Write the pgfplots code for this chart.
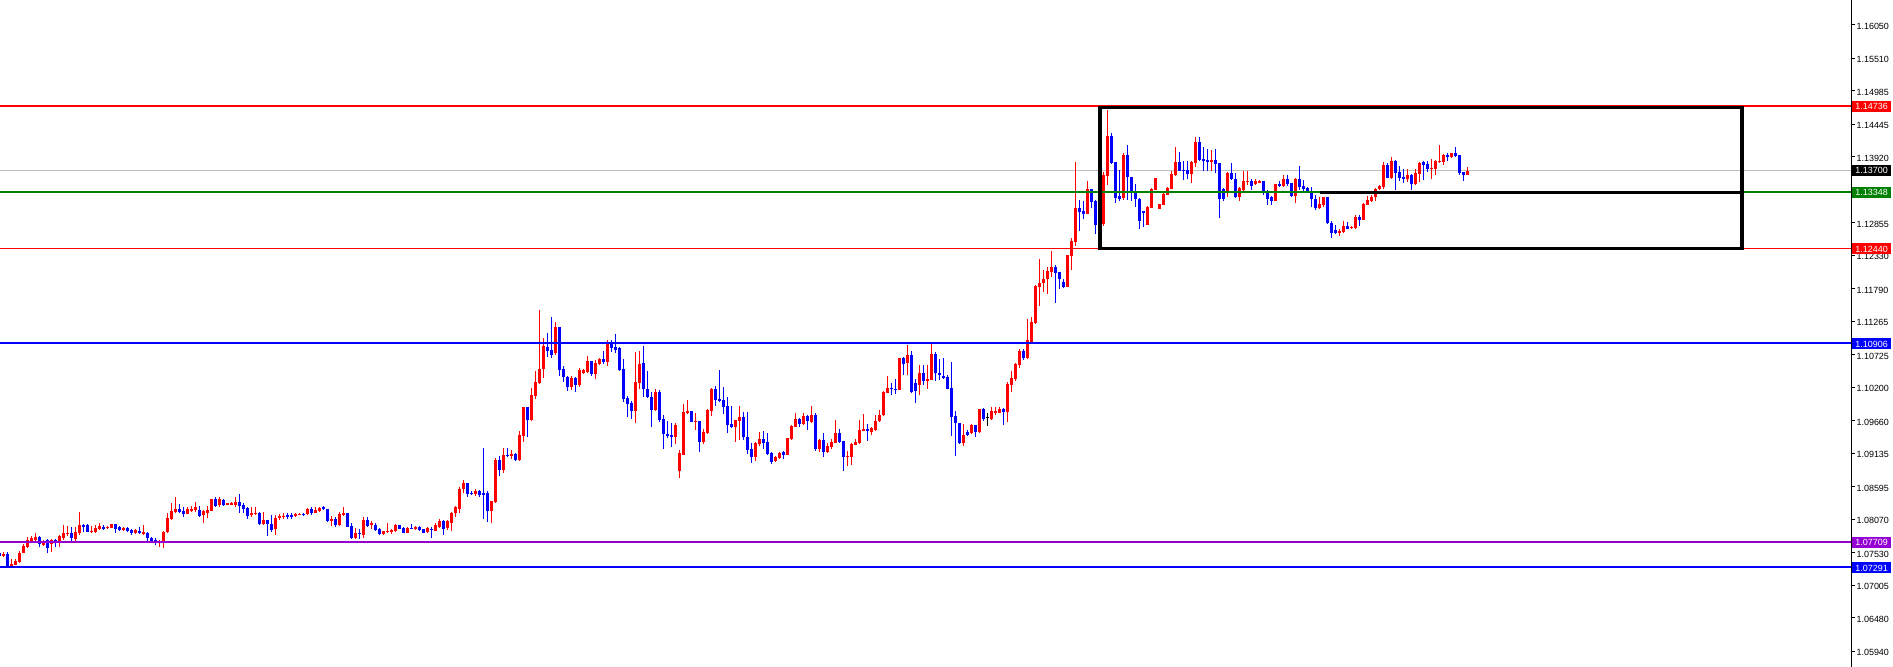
\documentclass[border=0pt]{standalone}
\usepackage{pgfplots}
\pgfplotsset{compat=1.18}
\usepackage{pgfplotstable}
\usepackage{fontspec}
\setmainfont{Liberation Sans}
\definecolor{mtred}{RGB}{255,0,0}
\definecolor{mtblue}{RGB}{0,0,255}
\definecolor{mtgreen}{RGB}{0,128,0}
\definecolor{mtpurple}{RGB}{148,0,211}
\definecolor{mtgray}{RGB}{192,192,192}
\pgfplotstableread{
x o h l c
-1 1.07530 1.07546 1.07465 1.07476
0 1.07476 1.07546 1.07454 1.07503
1 1.07508 1.07546 1.07293 1.07304
2 1.07315 1.07422 1.07298 1.07347
3 1.07336 1.07422 1.07325 1.07401
4 1.07379 1.07562 1.07368 1.07530
5 1.07530 1.07670 1.07519 1.07637
6 1.07627 1.07788 1.07610 1.07734
7 1.07713 1.07799 1.07702 1.07766
8 1.07734 1.07853 1.07718 1.07783
9 1.07783 1.07799 1.07616 1.07670
10 1.07648 1.07734 1.07637 1.07691
11 1.07734 1.07750 1.07519 1.07610
12 1.07670 1.07750 1.07541 1.07734
13 1.07734 1.07750 1.07616 1.07680
14 1.07702 1.07820 1.07627 1.07799
15 1.07772 1.07976 1.07734 1.07853
16 1.07831 1.07960 1.07799 1.07853
17 1.07853 1.07939 1.07723 1.07766
18 1.07756 1.07939 1.07723 1.07863
19 1.07853 1.08186 1.07815 1.07976
20 1.07976 1.07987 1.07858 1.07949
21 1.07971 1.07987 1.07858 1.07869
22 1.07863 1.07960 1.07842 1.07879
23 1.07863 1.07976 1.07842 1.07922
24 1.07912 1.08014 1.07896 1.07960
25 1.07949 1.07971 1.07896 1.07906
26 1.07922 1.07960 1.07912 1.07949
27 1.07933 1.07992 1.07922 1.07987
28 1.07987 1.07992 1.07853 1.07906
29 1.07939 1.07966 1.07874 1.07896
30 1.07896 1.07949 1.07885 1.07933
31 1.07933 1.07949 1.07858 1.07879
32 1.07896 1.07912 1.07815 1.07853
33 1.07853 1.07917 1.07831 1.07896
34 1.07879 1.07949 1.07826 1.07853
35 1.07831 1.07976 1.07810 1.07863
36 1.07853 1.07863 1.07723 1.07761
37 1.07772 1.07788 1.07702 1.07718
38 1.07734 1.07761 1.07648 1.07680
39 1.07680 1.07734 1.07616 1.07718
40 1.07707 1.07879 1.07610 1.07869
41 1.07858 1.08175 1.07842 1.08089
42 1.08079 1.08326 1.08057 1.08202
43 1.08186 1.08423 1.08165 1.08235
44 1.08229 1.08315 1.08165 1.08186
45 1.08208 1.08272 1.08100 1.08159
46 1.08159 1.08261 1.08148 1.08229
47 1.08208 1.08283 1.08186 1.08240
48 1.08218 1.08348 1.08191 1.08261
49 1.08218 1.08283 1.08111 1.08122
50 1.08132 1.08218 1.08014 1.08197
51 1.08175 1.08283 1.08084 1.08218
52 1.08208 1.08401 1.08197 1.08391
53 1.08391 1.08434 1.08272 1.08283
54 1.08294 1.08434 1.08272 1.08391
55 1.08380 1.08401 1.08283 1.08294
56 1.08304 1.08337 1.08294 1.08326
57 1.08304 1.08348 1.08294 1.08326
58 1.08304 1.08434 1.08261 1.08348
59 1.08348 1.08477 1.08175 1.08283
60 1.08304 1.08326 1.08175 1.08240
61 1.08251 1.08272 1.08079 1.08122
62 1.08132 1.08261 1.08111 1.08175
63 1.08154 1.08272 1.08138 1.08175
64 1.08175 1.08186 1.07976 1.07992
65 1.07992 1.08186 1.07976 1.08057
66 1.08057 1.08057 1.07799 1.07992
67 1.07992 1.08138 1.07869 1.07896
68 1.07906 1.08138 1.07815 1.08084
69 1.08095 1.08154 1.08057 1.08127
70 1.08111 1.08165 1.08079 1.08122
71 1.08132 1.08175 1.08073 1.08105
72 1.08132 1.08175 1.08079 1.08100
73 1.08127 1.08175 1.08111 1.08154
74 1.08143 1.08175 1.08132 1.08159
75 1.08159 1.08175 1.08122 1.08143
76 1.08154 1.08251 1.08143 1.08240
77 1.08240 1.08261 1.08143 1.08165
78 1.08175 1.08261 1.08165 1.08218
79 1.08208 1.08261 1.08186 1.08251
80 1.08272 1.08283 1.08218 1.08229
81 1.08229 1.08229 1.08025 1.08046
82 1.08046 1.08122 1.07960 1.08068
83 1.08068 1.08100 1.07949 1.07971
84 1.07971 1.08191 1.07960 1.08154
85 1.08143 1.08272 1.08122 1.08165
86 1.08165 1.08175 1.07939 1.07949
87 1.07960 1.08003 1.07750 1.07766
88 1.07766 1.07928 1.07745 1.07853
89 1.07853 1.07917 1.07756 1.07842
90 1.07820 1.08111 1.07766 1.08057
91 1.08057 1.08111 1.07949 1.07960
92 1.07982 1.08046 1.07906 1.08003
93 1.07982 1.08014 1.07885 1.07896
94 1.07917 1.07928 1.07820 1.07831
95 1.07831 1.07885 1.07820 1.07874
96 1.07863 1.08003 1.07842 1.07885
97 1.07863 1.07917 1.07831 1.07896
98 1.07874 1.07992 1.07863 1.07971
99 1.07971 1.07982 1.07906 1.07917
100 1.07928 1.07939 1.07842 1.07853
101 1.07853 1.07939 1.07847 1.07928
102 1.07928 1.07992 1.07906 1.07917
103 1.07917 1.07960 1.07896 1.07939
104 1.07939 1.07960 1.07885 1.07896
105 1.07906 1.07917 1.07842 1.07853
106 1.07863 1.07939 1.07842 1.07928
107 1.07917 1.07949 1.07766 1.07896
108 1.07885 1.08003 1.07874 1.07971
109 1.07939 1.08068 1.07922 1.08046
110 1.08046 1.08057 1.07820 1.07917
111 1.07925 1.08057 1.07896 1.08035
112 1.08003 1.08186 1.07885 1.08175
113 1.08164 1.08283 1.08111 1.08261
114 1.08240 1.08584 1.08164 1.08552
115 1.08563 1.08702 1.08487 1.08649
116 1.08649 1.08660 1.08433 1.08476
117 1.08498 1.08530 1.08455 1.08476
118 1.08482 1.08552 1.08444 1.08525
119 1.08525 1.08541 1.08433 1.08460
120 1.08487 1.09219 1.08078 1.08466
121 1.08487 1.08530 1.08030 1.08207
122 1.08207 1.08369 1.08014 1.08369
123 1.08347 1.09052 1.08326 1.09025
124 1.09025 1.09090 1.08767 1.08864
125 1.08864 1.09213 1.08821 1.09106
126 1.09106 1.09213 1.09068 1.09090
127 1.09095 1.09187 1.09047 1.09122
128 1.09122 1.09144 1.09014 1.09025
129 1.09025 1.09493 1.09014 1.09429
130 1.09418 1.09886 1.09321 1.09875
131 1.09875 1.09886 1.09402 1.09671
132 1.09671 1.10182 1.09660 1.10069
133 1.10058 1.10462 1.10004 1.10284
134 1.10263 1.11446 1.10252 1.10494
135 1.10494 1.11000 1.10354 1.10865
136 1.10854 1.11080 1.10693 1.10784
137 1.10801 1.11339 1.10666 1.10720
138 1.10747 1.11253 1.10720 1.11177
139 1.11172 1.11177 1.10381 1.10478
140 1.10494 1.10542 1.10289 1.10359
141 1.10359 1.10381 1.10144 1.10209
142 1.10203 1.10381 1.10155 1.10349
143 1.10349 1.10370 1.10123 1.10236
144 1.10236 1.10510 1.10209 1.10478
145 1.10424 1.10489 1.10413 1.10478
146 1.10451 1.10704 1.10435 1.10628
147 1.10623 1.10623 1.10381 1.10413
148 1.10413 1.10639 1.10327 1.10585
149 1.10574 1.10677 1.10553 1.10650
150 1.10650 1.10784 1.10574 1.10607
151 1.10612 1.10962 1.10542 1.10892
152 1.10892 1.10962 1.10768 1.10838
153 1.10849 1.11059 1.10758 1.10801
154 1.10827 1.10844 1.10467 1.10478
155 1.10489 1.10655 1.09967 1.10004
156 1.10031 1.10058 1.09725 1.09929
157 1.09940 1.09983 1.09692 1.09821
158 1.09821 1.10774 1.09617 1.10284
159 1.10273 1.10784 1.10176 1.10574
160 1.10585 1.10865 1.10047 1.10166
161 1.10176 1.10462 1.10031 1.10037
162 1.10042 1.10123 1.09563 1.09832
163 1.09832 1.10166 1.09821 1.10123
164 1.10123 1.10155 1.09644 1.09671
165 1.09682 1.09757 1.09203 1.09445
166 1.09445 1.09655 1.09375 1.09418
167 1.09429 1.09628 1.09240 1.09402
168 1.09402 1.09628 1.09283 1.09590
169 1.08853 1.09187 1.08740 1.09144
170 1.09111 1.09929 1.09111 1.09800
171 1.09778 1.09994 1.09773 1.09811
172 1.09816 1.09816 1.09639 1.09639
173 1.09644 1.09789 1.09509 1.09655
174 1.09655 1.09655 1.09154 1.09316
175 1.09316 1.09520 1.09283 1.09472
176 1.09456 1.09854 1.09445 1.09838
177 1.09821 1.10193 1.09735 1.10176
178 1.10176 1.10220 1.09897 1.09994
179 1.10015 1.10478 1.09961 1.09983
180 1.09994 1.10203 1.09768 1.09886
181 1.09897 1.10047 1.09456 1.09595
182 1.09606 1.09897 1.09542 1.09558
183 1.09558 1.09671 1.09321 1.09671
184 1.09660 1.09897 1.09348 1.09719
185 1.09713 1.09800 1.09348 1.09391
186 1.09391 1.09800 1.09122 1.09186
187 1.09208 1.09294 1.08982 1.09079
188 1.09079 1.09315 1.09014 1.09294
189 1.09283 1.09477 1.09251 1.09358
190 1.09358 1.09487 1.09208 1.09294
191 1.09315 1.09455 1.09105 1.09122
192 1.09132 1.09154 1.08960 1.08998
193 1.09014 1.09089 1.08993 1.09079
194 1.09057 1.09154 1.09046 1.09132
195 1.09154 1.09175 1.09036 1.09111
196 1.09105 1.09385 1.09105 1.09374
197 1.09358 1.09584 1.09348 1.09574
198 1.09563 1.09778 1.09552 1.09681
199 1.09692 1.09703 1.09563 1.09606
200 1.09606 1.09778 1.09595 1.09735
201 1.09735 1.09746 1.09509 1.09660
202 1.09638 1.09896 1.09627 1.09746
203 1.09746 1.09789 1.09175 1.09197
204 1.09197 1.09358 1.09154 1.09348
205 1.09348 1.09455 1.09079 1.09159
206 1.09159 1.09305 1.09143 1.09251
207 1.09240 1.09369 1.09197 1.09315
208 1.09305 1.09670 1.09294 1.09455
209 1.09455 1.09531 1.09294 1.09315
210 1.09326 1.09326 1.08853 1.09079
211 1.09079 1.09175 1.08928 1.09089
212 1.09079 1.09294 1.08944 1.09283
213 1.09272 1.09369 1.09262 1.09315
214 1.09294 1.09670 1.09283 1.09509
215 1.09498 1.09767 1.09487 1.09531
216 1.09531 1.09606 1.09337 1.09498
217 1.09482 1.09563 1.09434 1.09547
218 1.09509 1.09746 1.09498 1.09660
219 1.09649 1.09832 1.09638 1.09746
220 1.09746 1.10144 1.09735 1.10128
221 1.10112 1.10381 1.10101 1.10187
222 1.10187 1.10262 1.10069 1.10165
223 1.10176 1.10327 1.10090 1.10165
224 1.10155 1.10671 1.10155 1.10671
225 1.10671 1.10682 1.10402 1.10574
226 1.10596 1.10886 1.10402 1.10725
227 1.10725 1.10779 1.10101 1.10122
228 1.10262 1.10327 1.09950 1.10133
229 1.10235 1.10558 1.10069 1.10434
230 1.10434 1.10553 1.10230 1.10294
231 1.10305 1.10553 1.10176 1.10327
232 1.10316 1.10908 1.10316 1.10736
233 1.10736 1.10768 1.10305 1.10424
234 1.10434 1.10660 1.10316 1.10391
235 1.10381 1.10671 1.10327 1.10348
236 1.10370 1.10402 1.10165 1.10176
237 1.10187 1.10607 1.09412 1.09724
238 1.09735 1.09821 1.09089 1.09617
239 1.09617 1.09617 1.09283 1.09294
240 1.09294 1.09606 1.09251 1.09423
241 1.09477 1.09509 1.09412 1.09434
242 1.09466 1.09606 1.09444 1.09595
243 1.09584 1.09595 1.09401 1.09477
244 1.09477 1.09853 1.09466 1.09853
245 1.09853 1.09864 1.09660 1.09681
246 1.09713 1.09778 1.09574 1.09713
247 1.09681 1.09875 1.09670 1.09810
248 1.09789 1.09875 1.09756 1.09821
249 1.09789 1.09886 1.09778 1.09843
250 1.09843 1.09864 1.09584 1.09800
251 1.09800 1.10289 1.09638 1.10251
252 1.10241 1.10456 1.10122 1.10348
253 1.10338 1.10585 1.10305 1.10574
254 1.10563 1.10811 1.10510 1.10789
255 1.10789 1.10822 1.10639 1.10671
256 1.10671 1.11296 1.10650 1.10962
257 1.10936 1.11339 1.10909 1.11259
258 1.11232 1.11850 1.11221 1.11840
259 1.11823 1.12270 1.11511 1.11888
260 1.11888 1.12092 1.11743 1.11947
261 1.11942 1.12146 1.11705 1.12076
262 1.12060 1.12399 1.11985 1.12141
263 1.12141 1.12173 1.11565 1.12050
264 1.12060 1.12060 1.11786 1.11942
265 1.11899 1.11947 1.11797 1.11823
266 1.11823 1.12335 1.11823 1.12335
267 1.12324 1.12604 1.12092 1.12561
268 1.12550 1.13836 1.12485 1.13093
269 1.13093 1.13222 1.12727 1.13034
270 1.13045 1.13206 1.12921 1.12996
271 1.12996 1.13534 1.12996 1.13400
272 1.13400 1.13400 1.13088 1.13195
273 1.13206 1.13222 1.12674 1.12824
274 1.12850 1.12900 1.12760 1.12810
275 1.12834 1.13679 1.12802 1.13626
276 1.13615 1.14675 1.13464 1.14255
277 1.14255 1.14298 1.13803 1.13825
278 1.13836 1.13836 1.13179 1.13249
279 1.13287 1.13706 1.13211 1.13243
280 1.13249 1.13975 1.13222 1.13948
281 1.13948 1.14110 1.13222 1.13588
282 1.13588 1.13588 1.13211 1.13373
283 1.13373 1.13480 1.13104 1.13243
284 1.13243 1.13254 1.12749 1.12889
285 1.13039 1.13039 1.12792 1.13007
286 1.12819 1.13125 1.12819 1.13115
287 1.13098 1.13410 1.13088 1.13400
288 1.13384 1.13583 1.13384 1.13572
289 1.13077 1.13158 1.13077 1.13152
290 1.13141 1.13330 1.13141 1.13319
291 1.13303 1.13427 1.13303 1.13416
292 1.13394 1.13696 1.13394 1.13642
293 1.13620 1.14072 1.13610 1.13836
294 1.13836 1.13997 1.13690 1.13690
295 1.13706 1.13857 1.13545 1.13685
296 1.13706 1.13852 1.13556 1.13642
297 1.13647 1.13857 1.13502 1.13836
298 1.13819 1.14234 1.13749 1.14158
299 1.14158 1.14239 1.13846 1.13868
300 1.13878 1.14078 1.13685 1.13846
301 1.13868 1.14045 1.13685 1.13836
302 1.13841 1.14029 1.13696 1.13868
303 1.13868 1.14045 1.13653 1.13803
304 1.13814 1.13814 1.12932 1.13233
305 1.13394 1.13410 1.13211 1.13243
306 1.13351 1.13674 1.13276 1.13663
307 1.13653 1.13814 1.13545 1.13566
308 1.13566 1.13663 1.13254 1.13265
309 1.13265 1.13437 1.13211 1.13410
310 1.13384 1.13696 1.13351 1.13534
311 1.13523 1.13696 1.13469 1.13534
312 1.13534 1.13566 1.13384 1.13448
313 1.13480 1.13556 1.13469 1.13523
314 1.13502 1.13545 1.13491 1.13534
315 1.13534 1.13534 1.13308 1.13346
316 1.13351 1.13384 1.13141 1.13243
317 1.13276 1.13287 1.13136 1.13206
318 1.13206 1.13480 1.13201 1.13480
319 1.13480 1.13534 1.13437 1.13448
320 1.13448 1.13626 1.13437 1.13566
321 1.13566 1.13626 1.13448 1.13480
322 1.13496 1.13496 1.13276 1.13287
323 1.13287 1.13577 1.13179 1.13566
324 1.13566 1.13771 1.13384 1.13437
325 1.13448 1.13545 1.13373 1.13405
326 1.13416 1.13437 1.13340 1.13351
327 1.13351 1.13437 1.13104 1.13243
328 1.13243 1.13297 1.13061 1.13093
329 1.13093 1.13276 1.13077 1.13158
330 1.13136 1.13276 1.13115 1.13276
331 1.13276 1.13276 1.12834 1.12856
332 1.12856 1.12889 1.12614 1.12695
333 1.12738 1.12819 1.12668 1.12695
334 1.12695 1.12749 1.12647 1.12727
335 1.12711 1.12878 1.12695 1.12802
336 1.12802 1.12872 1.12749 1.12749
337 1.12770 1.12802 1.12760 1.12792
338 1.12770 1.12980 1.12760 1.12948
339 1.12948 1.12980 1.12802 1.12905
340 1.12905 1.13168 1.12905 1.13158
341 1.13147 1.13287 1.13141 1.13222
342 1.13211 1.13303 1.13195 1.13276
343 1.13265 1.13416 1.13206 1.13405
344 1.13405 1.13459 1.13384 1.13448
345 1.13437 1.13841 1.13394 1.13787
346 1.13787 1.13825 1.13572 1.13583
347 1.13583 1.13922 1.13566 1.13852
348 1.13852 1.13868 1.13384 1.13663
349 1.13674 1.13771 1.13534 1.13583
350 1.13588 1.13717 1.13502 1.13566
351 1.13556 1.13717 1.13518 1.13620
352 1.13631 1.13642 1.13384 1.13480
353 1.13480 1.13717 1.13464 1.13653
354 1.13642 1.13841 1.13518 1.13825
355 1.13841 1.13857 1.13545 1.13792
356 1.13803 1.13857 1.13674 1.13728
357 1.13728 1.13884 1.13566 1.13739
358 1.13728 1.13868 1.13631 1.13857
359 1.13836 1.14110 1.13825 1.13846
360 1.13841 1.13959 1.13787 1.13948
361 1.13948 1.13986 1.13857 1.13922
362 1.13922 1.13981 1.13905 1.13981
363 1.13981 1.14078 1.13922 1.13937
364 1.13948 1.13948 1.13626 1.13663
365 1.13674 1.13674 1.13534 1.13631
366 1.13631 1.13755 1.13631 1.13690
}\candles
\tikzset{pricelbl/.style={anchor=west, text=white, font=\fontsize{9}{10}\selectfont, inner xsep=3.3bp, inner ysep=0pt, minimum height=11bp, xshift=0.8bp, yshift=-0.5bp}}
\begin{document}
\begin{tikzpicture}
\begin{axis}[
  at={(0,0)}, anchor=south west,
  scale only axis, width=1851bp, height=667bp,
  xmin=-0.825, xmax=461.925, ymin=1.056835, ymax=1.164503,
  axis x line=none, axis y line*=right,
  y axis line style={black, line width=1bp},
  ytick={1.16050,1.15510,1.14985,1.14445,1.13920,1.12855,1.12330,1.11790,1.11265,1.10725,1.10200,1.09660,1.09135,1.08595,1.08070,1.07530,1.07005,1.06480,1.05940},
  scaled y ticks=false,
  yticklabel style={font=\fontsize{9}{10}\selectfont, xshift=-2bp, yshift=-1.5bp, /pgf/number format/.cd, fixed, fixed zerofill, precision=5, assume math mode=true},
  tick align=outside, major tick length=4bp,
  y tick style={black, line width=1bp},
  clip=false,
]
% current price line (behind candles)
\addplot[mtgray, line width=1bp, forget plot] coordinates {(-0.825,1.13700) (461.925,1.13700)};
% wicks
\addplot[forget plot, draw=none, mark=none, restrict expr to domain={\thisrow{c}-\thisrow{o}}{0.0000001:1},
  error bars/.cd, y dir=plus, y explicit, error mark=none, error bar style={draw=mtred, line width=1bp}]
  table[x=x, y=l, y error plus expr=\thisrow{h}-\thisrow{l}] {\candles};
\addplot[forget plot, draw=none, mark=none, restrict expr to domain={\thisrow{o}-\thisrow{c}}{0.0000001:1},
  error bars/.cd, y dir=plus, y explicit, error mark=none, error bar style={draw=mtblue, line width=1bp}]
  table[x=x, y=l, y error plus expr=\thisrow{h}-\thisrow{l}] {\candles};
\addplot[forget plot, draw=none, mark=none, restrict expr to domain={abs(\thisrow{o}-\thisrow{c})}{0:0.00000005},
  error bars/.cd, y dir=plus, y explicit, error mark=none, error bar style={draw=black, line width=1bp}]
  table[x=x, y=l, y error plus expr=\thisrow{h}-\thisrow{l}] {\candles};
% bodies
\addplot[forget plot, draw=none, mark=none, restrict expr to domain={\thisrow{c}-\thisrow{o}}{0.0000001:1},
  error bars/.cd, y dir=plus, y explicit, error mark=none, error bar style={draw=mtred, line width=3bp}]
  table[x=x, y=o, y error plus expr={max(\thisrow{c}-\thisrow{o},0.0001)}] {\candles};
\addplot[forget plot, draw=none, mark=none, restrict expr to domain={\thisrow{o}-\thisrow{c}}{0.0000001:1},
  error bars/.cd, y dir=plus, y explicit, error mark=none, error bar style={draw=mtblue, line width=3bp}]
  table[x=x, y=c, y error plus expr={max(\thisrow{o}-\thisrow{c},0.0001)}] {\candles};
\addplot[forget plot, black, only marks, mark=-, mark size=1.5bp, mark options={line width=1bp}, restrict expr to domain={abs(\thisrow{o}-\thisrow{c})}{0:0.00000005}]
  table[x=x, y=o] {\candles};
% horizontal levels
\addplot[mtred, line width=1.4bp, forget plot] coordinates {(-0.825,1.14736) (461.925,1.14736)};
\addplot[mtgreen, line width=2bp, forget plot] coordinates {(-0.825,1.13348) (461.925,1.13348)};
\addplot[mtred, line width=1.4bp, forget plot] coordinates {(-0.825,1.12440) (461.925,1.12440)};
\addplot[mtblue, line width=2bp, forget plot] coordinates {(-0.825,1.10906) (461.925,1.10906)};
\addplot[mtpurple, line width=2bp, forget plot] coordinates {(-0.825,1.07709) (461.925,1.07709)};
\addplot[mtblue, line width=2bp, forget plot] coordinates {(-0.825,1.07291) (461.925,1.07291)};
% rectangle
\addplot[black, line width=3.6bp, line join=miter, forget plot] coordinates {(274.2,1.14716) (434.7,1.14716) (434.7,1.12438) (274.2,1.12438) (274.2,1.14716)} -- cycle;
\addplot[black, line width=3.6bp, forget plot] coordinates {(329.2,1.13341) (434.7,1.13341)};
% price labels
\node[pricelbl, fill=mtred] at (axis cs:461.925,1.14736) {1.14736};
\node[pricelbl, fill=black] at (axis cs:461.925,1.13700) {1.13700};
\node[pricelbl, fill=mtgreen] at (axis cs:461.925,1.13348) {1.13348};
\node[pricelbl, fill=mtred] at (axis cs:461.925,1.12440) {1.12440};
\node[pricelbl, fill=mtblue] at (axis cs:461.925,1.10906) {1.10906};
\node[pricelbl, fill=mtpurple] at (axis cs:461.925,1.07709) {1.07709};
\node[pricelbl, fill=mtblue] at (axis cs:461.925,1.07291) {1.07291};
\end{axis}
\pgfresetboundingbox
\path[use as bounding box] (0,0) rectangle (1893bp,667bp);
\end{tikzpicture}
\end{document}
